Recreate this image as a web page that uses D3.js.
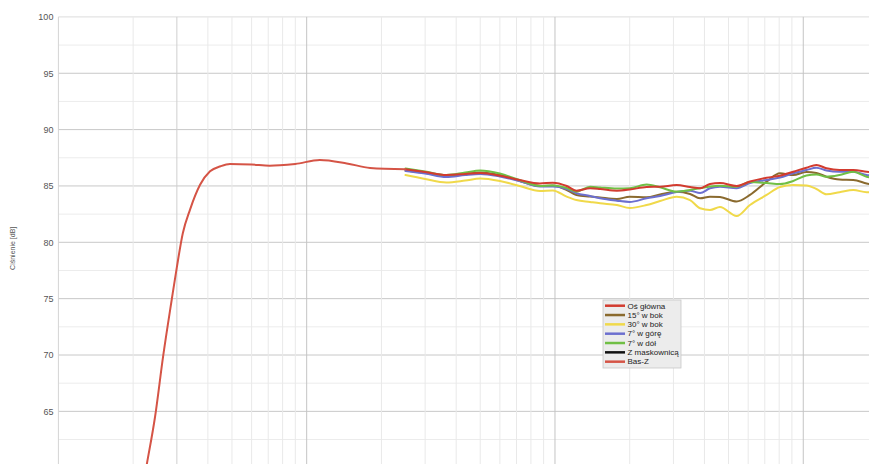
<!DOCTYPE html>
<html>
<head>
<meta charset="utf-8">
<script src="https://cdn.jsdelivr.net/npm/d3@7"></script>
<style>
  html, body { margin: 0; padding: 0; background: #fff; }
  svg { display: block; font-family: "Liberation Sans", Arial, sans-serif; }
</style>
</head>
<body>
<svg id="chart" width="869" height="464"></svg>
<script>
// Near-field bass measurement (Hz / dB)
const freqBasZ = [22, 22.7, 24.5, 26.4, 28.6, 30, 31.7, 33.9, 37.2, 40.8, 45, 49.1, 60, 71, 78, 90, 113, 145, 180, 250];
const dbBasZ   = [58.6, 60.3, 64.5, 69.85, 74.9, 77.8, 80.8, 82.9, 85.1, 86.3, 86.75, 86.95, 86.9, 86.8, 86.83, 86.95, 87.3, 87.0, 86.6, 86.48];

// Far-field measurements share one frequency grid (Hz)
const freqFar = [250, 300, 365, 435, 500, 600, 720, 870, 980, 1115, 1220, 1385, 1520, 1775, 2000, 2340, 2650, 3090, 3500, 3840, 4210, 4620, 5390, 6100, 7120, 8060, 9110, 10300, 11300, 12400, 14000, 15900, 18000, 20000];

const dbOnAxis = [86.48, 86.24, 85.97, 86.06, 86.15, 85.91, 85.53, 85.22, 85.29, 85.0, 84.58, 84.79, 84.73, 84.58, 84.68, 84.91, 84.93, 85.08, 84.91, 84.79, 85.18, 85.26, 85.0, 85.39, 85.73, 85.91, 86.26, 86.62, 86.86, 86.57, 86.41, 86.41, 86.26, 86.15];
const db15Side = [86.37, 86.15, 85.88, 86.06, 86.19, 85.97, 85.44, 85.0, 85.04, 84.64, 84.20, 84.06, 83.97, 83.84, 84.05, 83.99, 84.24, 84.49, 84.29, 83.9, 84.05, 84.02, 83.62, 84.20, 85.38, 86.12, 85.97, 86.24, 86.15, 85.82, 85.57, 85.53, 85.22, 85.0];
const db30Side = [85.97, 85.62, 85.31, 85.48, 85.66, 85.44, 85.0, 84.55, 84.60, 84.05, 83.75, 83.58, 83.46, 83.31, 83.04, 83.31, 83.66, 84.05, 83.75, 83.02, 82.87, 83.13, 82.33, 83.31, 84.20, 84.91, 85.08, 85.04, 84.73, 84.26, 84.44, 84.64, 84.44, 84.46];
const db7Up    = [86.33, 86.1, 85.79, 85.97, 86.06, 85.84, 85.44, 84.95, 84.95, 84.73, 84.35, 84.11, 83.90, 83.69, 83.58, 83.90, 84.11, 84.46, 84.58, 84.37, 84.79, 84.93, 84.79, 85.26, 85.53, 85.75, 86.12, 86.41, 86.62, 86.37, 86.26, 86.26, 85.97, 85.88];
const db7Down  = [86.55, 86.28, 85.97, 86.19, 86.37, 86.10, 85.53, 85.0, 85.04, 84.82, 84.49, 84.93, 84.86, 84.77, 84.79, 85.13, 84.88, 84.49, 84.64, 84.79, 84.95, 85.02, 84.93, 85.35, 85.26, 85.17, 85.44, 85.93, 86.02, 85.82, 85.97, 86.26, 85.82, 85.7];
// The grille measurement is listed in the legend only; no trace is plotted for it.
const dbGrille = [];

const legendLabels = ["Oś główna", "15° w bok", "30° w bok", "7° w górę", "7° w dół", "Z maskownicą", "Bas-Z"];
const yTicks = [60, 65, 70, 75, 80, 85, 90, 95, 100];
const yTitle = "Ciśnienie [dB]";

const colors = {
  "Oś główna": "#d23b2f",
  "15° w bok": "#8a6a2e",
  "30° w bok": "#f0d94a",
  "7° w górę": "#6c6fcf",
  "7° w dół": "#70bf45",
  "Z maskownicą": "#111111",
  "Bas-Z": "#d55446"
};

const seriesData = {
  "Oś główna": { f: freqFar, v: dbOnAxis },
  "15° w bok": { f: freqFar, v: db15Side },
  "30° w bok": { f: freqFar, v: db30Side },
  "7° w górę": { f: freqFar, v: db7Up },
  "7° w dół": { f: freqFar, v: db7Down },
  "Z maskownicą": { f: freqFar, v: dbGrille },
  "Bas-Z": { f: freqBasZ, v: dbBasZ }
};
const drawOrder = ["30° w bok", "15° w bok", "7° w górę", "7° w dół", "Z maskownicą", "Oś główna", "Bas-Z"];

const svg = d3.select("#chart");
const plot = { left: 58.4, right: 878, top: 16.9, bottom: 467.7 };

const x = d3.scaleLog().domain([10, 20000]).range([plot.left, plot.right]);
const y = d3.scaleLinear().domain([60, 100]).range([plot.bottom, plot.top]);

// Grid: horizontal every 2.5 dB, vertical at each 1..9 multiple of a decade
const gridG = svg.append("g");
const hLines = d3.range(60, 100.01, 2.5);
gridG.selectAll("line.h").data(hLines).join("line")
  .attr("x1", plot.left).attr("x2", plot.right)
  .attr("y1", d => y(d)).attr("y2", d => y(d))
  .attr("stroke", d => d === 100 ? "#dcdcdc" : (d % 5 === 0 ? "#c8c8c8" : "#ececec"))
  .attr("stroke-width", 1);

const vLines = [];
[10, 100, 1000, 10000].forEach(dec => {
  for (let m = 1; m <= 9; m++) { const f = dec * m; if (f <= 20000) vLines.push(f); }
});
vLines.push(20000);
gridG.selectAll("line.v").data(vLines).join("line")
  .attr("x1", d => x(d)).attr("x2", d => x(d))
  .attr("y1", plot.top).attr("y2", plot.bottom)
  .attr("stroke", d => {
    const l = Math.log10(d);
    if (Math.abs(l - Math.round(l)) < 1e-9) return d === 10 ? "#d4d4d4" : "#c4c4c4";
    if (d === 30) return "#cfcfcf";
    return "#e9e9e9";
  })
  .attr("stroke-width", 1);

// Y axis labels
const yAxis = d3.axisLeft(y).tickValues(yTicks).tickSize(0).tickPadding(5).tickFormat(d3.format("d"));
const yG = svg.append("g").attr("transform", `translate(${plot.left},0)`).call(yAxis);
yG.select(".domain").remove();
yG.selectAll("text").attr("font-size", 9).attr("fill", "#555").attr("font-family", "Liberation Sans, Arial, sans-serif");

svg.append("text")
  .attr("transform", `translate(15,${(plot.top + plot.bottom) / 2 + 6}) rotate(-90)`)
  .attr("text-anchor", "middle")
  .attr("font-size", 7)
  .attr("fill", "#555")
  .text(yTitle);

// Curves
svg.append("clipPath").attr("id", "plotClip").append("rect")
  .attr("x", plot.left).attr("y", plot.top)
  .attr("width", plot.right - plot.left).attr("height", plot.bottom - plot.top);

const line = d3.line().x(d => x(d[0])).y(d => y(d[1])).curve(d3.curveMonotoneX);
const curveG = svg.append("g").attr("clip-path", "url(#plotClip)");
drawOrder.forEach(name => {
  const s = seriesData[name];
  const pts = s.v.map((v, i) => [s.f[i], v]);
  if (!pts.length) return;
  curveG.append("path")
    .datum(pts)
    .attr("d", line)
    .attr("fill", "none")
    .attr("stroke", colors[name])
    .attr("stroke-width", 2)
    .attr("stroke-linejoin", "round")
    .attr("stroke-linecap", "round");
});

// Legend
const lg = svg.append("g").attr("transform", "translate(603,300)");
lg.append("rect").attr("width", 78).attr("height", 68)
  .attr("fill", "#ececec").attr("stroke", "#c8c8c8").attr("stroke-width", 0.8);
legendLabels.forEach((name, i) => {
  const cy = 5.7 + i * 9.33;
  lg.append("line").attr("x1", 2).attr("x2", 22).attr("y1", cy).attr("y2", cy)
    .attr("stroke", colors[name]).attr("stroke-width", 2.5);
  lg.append("text").attr("x", 24.5).attr("y", cy).attr("dy", "0.35em")
    .attr("font-size", 8).attr("fill", "#222").text(name);
});
</script>
</body>
</html>
